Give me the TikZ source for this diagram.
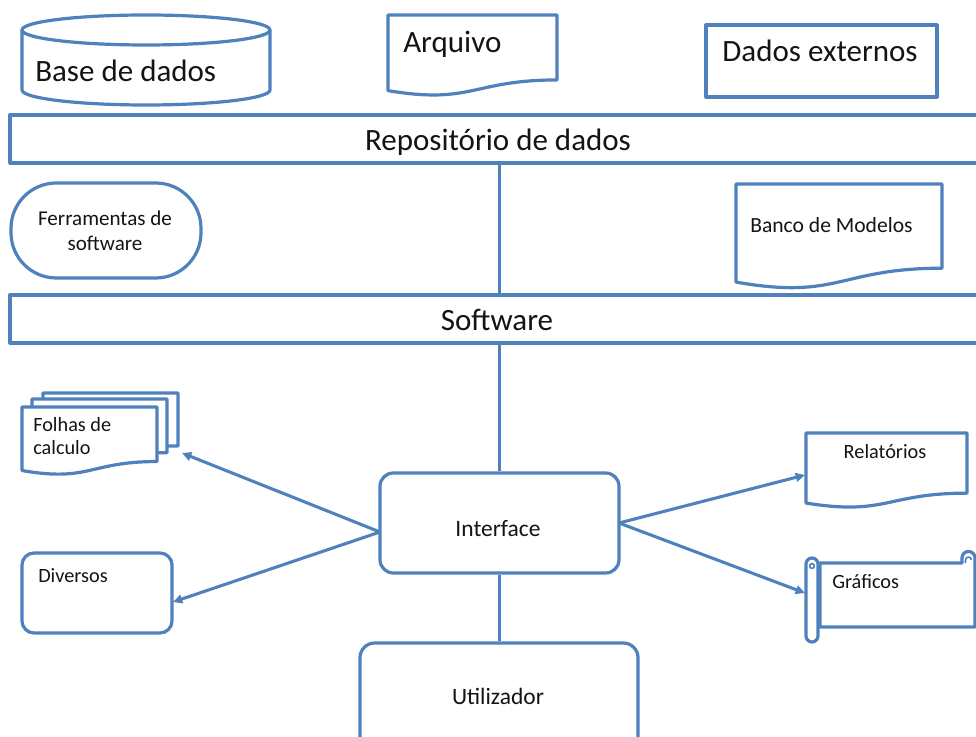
\documentclass[tikz,border=0pt]{standalone}
\usepackage{fontspec}
\setmainfont{Carlito}
\usetikzlibrary{arrows.meta}
\definecolor{ob}{RGB}{79,129,189}
\definecolor{tx}{RGB}{20,20,20}
\tikzset{
  box/.style={draw=ob, line width=2.4pt, line join=round},
  conn/.style={draw=ob, line width=2.3pt},
  arr/.style={conn, -{Triangle[length=7pt,width=6.5pt]}},
  big/.style={font=\fontsize{23.25}{28}\selectfont, text=tx, inner sep=0pt},
  mid/.style={font=\fontsize{17.6}{21}\selectfont, text=tx, inner sep=0pt},
  small/.style={font=\fontsize{15.2}{18.75}\selectfont, text=tx, inner sep=0pt},
}
\newcommand{\docshape}[4]{%
  \draw[box, fill=white] (#1,#2) -- (#3,#2) -- (#3,{#2+0.802*#4})
    .. controls ({(#1+#3)/2},{#2+0.802*#4}) and ({(#1+#3)/2},{#2+1.1075*#4}) ..
    (#1,{#2+0.934*#4}) -- cycle;}
\begin{document}
\begin{tikzpicture}[x=0.75pt,y=-0.75pt]
\useasboundingbox (0,0) rectangle (976,737);
\clip (0,0) rectangle (976,737);
\fill[white] (0,0) rectangle (976,737);

% Base de dados (cylinder)
\draw[box] (22,30) -- (22,90) arc[start angle=180,end angle=360,x radius=93pt,y radius=11.25pt] -- (270,30);
\draw[box] (146,30) ellipse [x radius=93pt, y radius=11.25pt];
\node[big, anchor=base west] (tbase) at (35,82) {Base de dados};

% Arquivo (document)
\docshape{388}{15}{557}{81}
\node[big, anchor=base west] (tarq) at (403,53) {Arquivo};

% Dados externos
\node[box, minimum width=173.25pt, minimum height=54pt] (dext) at (821.5,61) {};
\node[big, anchor=base] (tdext) at (820,62) {Dados externos};

% Repositorio bar
\node[box, minimum width=735pt, minimum height=36pt] (repo) at (500,139) {};
\node[big, anchor=base] (trepo) at (498,151) {Repositório de dados};

% Ferramentas de software
\node[box, rounded corners=34pt, minimum width=142.5pt, minimum height=71.25pt] (ferr) at (106,230.5) {};
\node[small, align=center, font=\fontsize{15.8}{18.75}\selectfont] (tferr) at (105,231) {Ferramentas de\\software};

% Banco de Modelos
\docshape{736}{184}{942}{105}
\node[small, anchor=base west, font=\fontsize{16.2}{19}\selectfont] (tbanco) at (750,233) {Banco de Modelos};

% Software bar
\node[box, minimum width=735pt, minimum height=36pt] (soft) at (500,319) {};
\node[big, anchor=base] (tsoft) at (497,331) {Software};

% Folhas de calculo (multi document)
\docshape{43}{393}{178}{66}
\docshape{32}{399}{167}{67}
\docshape{22}{407}{157}{68}
\node[small, anchor=base west] (tfol1) at (33,432) {Folhas de};
\node[small, anchor=base west] (tfol2) at (33,455) {calculo};

% Interface
\node[box, rounded corners=10pt, minimum width=179.25pt, minimum height=75pt] (iface) at (499.5,523) {};
\node[mid, anchor=base] (tiface) at (498,537) {Interface};

% Diversos
\node[box, rounded corners=9pt, minimum width=112.5pt, minimum height=60pt] (div) at (97,593) {};
\node[small, anchor=base west] (tdiv) at (38,583) {Diversos};

% Utilizador
\node[box, rounded corners=11pt, minimum width=208.5pt, minimum height=87.75pt] (util) at (499,701.5) {};
\node[mid, anchor=base] (tutil) at (498,705) {Utilizador};

% Relatorios
\docshape{806}{433}{967}{75}
\node[small, anchor=base] (trel) at (885,459) {Relatórios};

% Graficos (scroll)
\draw[box, fill=white] (820,563) -- (962,563) -- (962,558) arc[start angle=180,end angle=0,radius=4.9pt] -- (975,627) -- (820,627) -- cycle;
\draw[box, line width=1.2pt] (965.5,563) -- (965.5,560) arc[start angle=180,end angle=0,radius=2.2pt];
\draw[box, fill=white] (806,564) -- (806,636) arc[start angle=180,end angle=360,radius=4.5pt] -- (818,636) -- (818,564) arc[start angle=0,end angle=180,radius=4.5pt] -- cycle;
\draw[box, line width=1.2pt] (812,566) circle (1.8pt);
\node[small, anchor=base west] (tgraf) at (832,589) {Gráficos};

% connector end points
\coordinate (ifL) at (380,532);
\coordinate (ifR) at (619,523);
\coordinate (folTip) at (182,453);
\coordinate (divTip) at (173,602);
\coordinate (relTip) at (805,475);
\coordinate (grafTip) at (805,593);

% connectors
\draw[conn] (repo.south -| iface.north) -- (soft.north -| iface.north);
\draw[conn] (soft.south -| iface.north) -- (iface.north);
\draw[conn] (iface.south) -- (util.north -| iface.south);
\draw[arr] (ifL) -- (folTip);
\draw[arr] (ifL) -- (divTip);
\draw[arr] (ifR) -- (relTip);
\draw[arr] (ifR) -- (grafTip);
\end{tikzpicture}
\end{document}
